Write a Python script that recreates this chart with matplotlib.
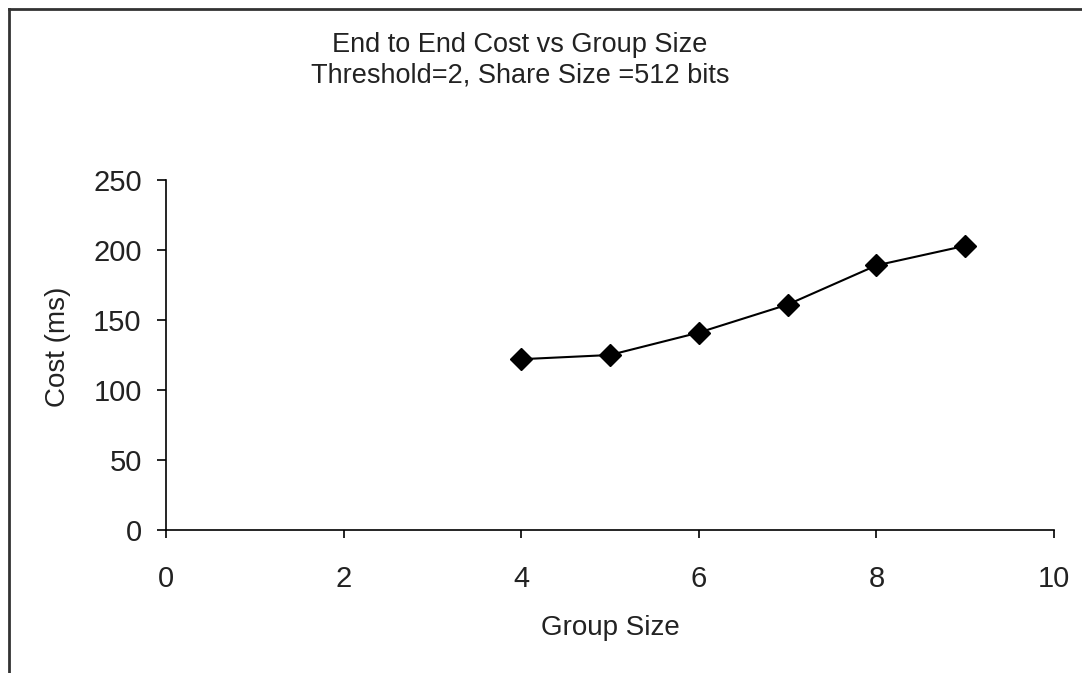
import matplotlib
matplotlib.use("Agg")
import matplotlib.pyplot as plt
from matplotlib.lines import Line2D

plt.rcParams['font.family'] = ['Liberation Sans', 'DejaVu Sans']

group_size = [4, 5, 6, 7, 8, 9]
cost_ms = [122, 125, 141, 161, 189, 203]

x_ticks = [0, 2, 4, 6, 8, 10]
y_ticks = [0, 50, 100, 150, 200, 250]

W, H = 1082, 673
fig = plt.figure(figsize=(W / 100, H / 100), dpi=100)
ax = fig.add_axes([166 / W, 1 - 530 / H, (1054 - 166) / W, (530 - 180) / H])

ax.plot(group_size, cost_ms, color='black', linewidth=1.5,
        marker='D', markersize=11, markerfacecolor='black', markeredgecolor='black')

ax.set_xlim(0, 10)
ax.set_ylim(0, 250)
ax.set_xticks(x_ticks)
ax.set_yticks(y_ticks)

for side in ('top', 'right'):
    ax.spines[side].set_visible(False)
for side in ('left', 'bottom'):
    ax.spines[side].set_linewidth(1.2)
    ax.spines[side].set_color('black')

ax.tick_params(axis='x', direction='out', length=6, width=1.2, pad=19, labelsize=21, colors='#222222')
ax.tick_params(axis='y', direction='out', length=6.5, width=1.2, pad=11, labelsize=21, colors='#222222')
ax.tick_params(axis='both', color='black')

fig.text(610 / W, 1 - 628 / H, 'Group Size', ha='center', va='center', fontsize=20, color='#222222')
fig.text(58 / W, 1 - 347 / H, 'Cost (ms)', ha='center', va='center', rotation=90, fontsize=20, color='#222222')

fig.text(520 / W, 1 - 45 / H, 'End to End Cost vs Group Size', ha='center', va='center',
         fontsize=19.5, color='#222222')
fig.text(520 / W, 1 - 75 / H, 'Threshold=2, Share Size =512 bits', ha='center', va='center',
         fontsize=19.5, color='#222222')

# outer chart frame (left and top edges)
fig.add_artist(Line2D([9 / W, 9 / W], [0, 1 - 9 / H], transform=fig.transFigure,
                      color='#333333', linewidth=2))
fig.add_artist(Line2D([9 / W, 1], [1 - 9 / H, 1 - 9 / H], transform=fig.transFigure,
                      color='#333333', linewidth=2))

fig.savefig('out.png', dpi=100)
